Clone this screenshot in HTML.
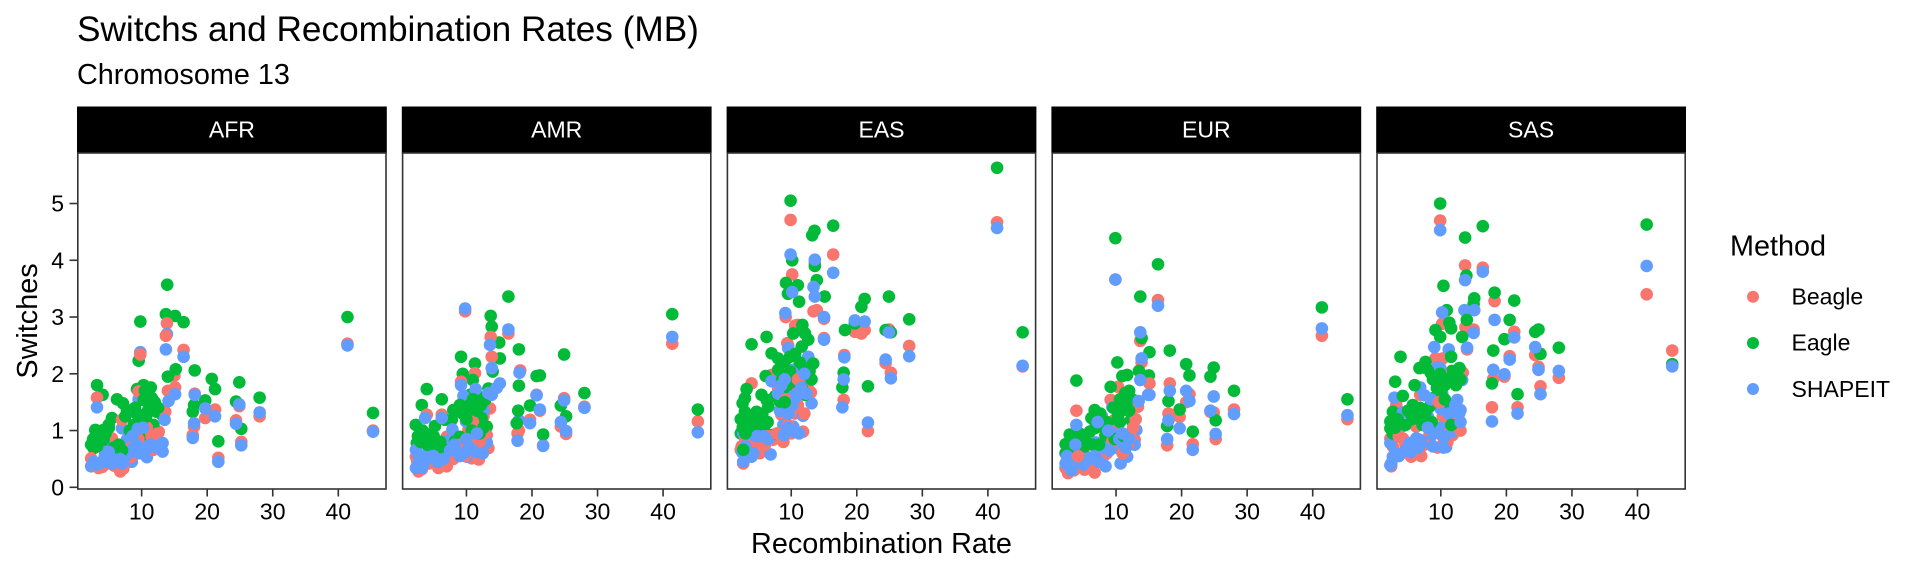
<!DOCTYPE html>
<html lang="en">
<head>
<meta charset="utf-8">
<title>Switchs and Recombination Rates (MB)</title>
<style>
html,body{margin:0;padding:0;background:#fff;width:1920px;height:576px;overflow:hidden}
svg{display:block}
text{font-family:"Liberation Sans",Arial,sans-serif}
</style>
</head>
<body>
<svg id="chart" xmlns="http://www.w3.org/2000/svg" width="1920" height="576" viewBox="0 0 1920 576">
  <rect x="0" y="0" width="1920" height="576" fill="#fff"/>
  <text x="77" y="41" font-size="35.2" fill="#000">Switchs and Recombination Rates (MB)</text>
  <text x="77" y="84" font-size="28.8" fill="#000">Chromosome 13</text>
  <text transform="translate(37,321) rotate(-90)" text-anchor="middle" font-size="28.8" fill="#000">Switches</text>
  <text x="881.5" y="553" text-anchor="middle" font-size="28.8" fill="#000">Recombination Rate</text>
  <g id="panels"></g>
  <g>
    <text x="1730" y="255.7" font-size="28.8" fill="#000">Method</text>
    <circle cx="1753" cy="296.7" r="6" fill="#F8766D"/>
    <text x="1791.5" y="304.5" font-size="23.04" fill="#000">Beagle</text>
    <circle cx="1753" cy="343" r="6" fill="#00BA38"/>
    <text x="1791.5" y="350.7" font-size="23.04" fill="#000">Eagle</text>
    <circle cx="1753" cy="389" r="6" fill="#619CFF"/>
    <text x="1791.5" y="397" font-size="23.04" fill="#000">SHAPEIT</text>
  </g>
</svg>
<script>
const panelNames = ['AFR','AMR','EAS','EUR','SAS'];
const xTickValues = [10,20,30,40];
const yTickValues = [0,1,2,3,4,5];

const afrBeagleX = [41.4,45.3,28,24.4,24.9,25.2,21.7,21.2,20.7,19.7,18.1,18,17.8,16.4,15.1,15,3.19,13.86,13.7,5.47,7,4.46,2.3,3.44,6.74,9.54,10.3,12.6,11.8,13.6,14,8.5,9.8,3,4,5,5.8,7.2,8.4,9.5,10.8,11.5,12.5,12.8];
const afrBeagleY = [2.53,1,1.25,1.18,1.43,0.8,0.52,1.37,1.32,1.22,1.65,1.07,0.92,2.42,1.76,1.97,1.58,2.89,2.67,0.86,1.19,0.6,0.51,0.34,0.28,1.69,1.16,0.98,0.66,1.33,1.7,0.54,2.34,0.38,0.36,0.42,0.38,0.33,0.7,0.85,1.05,0.9,0.95,0.75];
const afrEagleX = [41.4,45.3,28,24.4,24.9,25.2,21.7,21.2,20.7,19.7,18.1,18,17.8,16.4,9.8,13.7,15.1,13.9,3.2,4.05,6.24,7.15,7.76,5.47,4.97,2.93,4.2,2.3,2.68,6.24,6.5,9.3,10.3,11.4,11.57,11.8,12.3,13.1,8.5,10.3,11.8,14,15.2,9.55,11,10.3,9.3,3.2,4.2,2.6,3.2,3.8,4.5,5,5.8,6.5,7.5,8.2,8.8,9,9.6,10.5,11,11.5,12,12.5,10.7,10,7];
const afrEagleY = [3,1.31,1.58,1.51,1.85,1.03,0.81,1.73,1.91,1.53,2.06,1.45,1.33,2.91,2.92,3.05,3.02,3.57,1.8,1.63,1.55,1.48,1.36,1.22,1.1,1.01,1.01,0.75,0.69,0.69,0.54,1.73,1.8,1.76,1.57,1.42,1.33,1.28,0.98,0.92,1.1,1.95,2.08,2.23,1.36,1.54,1.3,0.72,0.84,0.85,0.95,0.95,0.95,1.05,0.7,0.75,1.25,1,1.1,1.4,1.25,1.7,1.6,1.45,1.5,1.4,1.25,1.1,0.65];
const afrShapeitX = [41.4,45.3,28,24.4,24.9,25.2,21.7,21.2,19.7,18.1,18,17.8,16.4,3.19,9.8,13.86,13.7,7,9.18,9.54,10.2,4.46,6,2.68,2.3,4.2,6.5,8.5,10.8,13.2,12.6,8.27,10.3,7.76,15.1,14.1,13.5,3,3.6,4.8,5.5,7,7.5,8,8.8,9.2,9.6,10,10.8,11.5,12,12.8,13.2,8.6,9.4,10.2,5,6.7,4.4];
const afrShapeitY = [2.5,0.98,1.32,1.12,1.46,0.74,0.45,1.25,1.39,1.63,1.13,0.87,2.3,1.41,2.38,2.7,2.43,1.04,1.3,1.55,1,0.73,0.5,0.45,0.37,0.48,0.4,0.45,0.53,0.63,0.8,0.69,0.72,0.84,1.64,1.52,1.19,0.4,0.42,0.45,0.42,0.42,0.55,0.6,0.7,0.75,0.6,0.62,0.68,0.75,0.72,0.68,0.78,0.9,1.03,1.05,0.62,0.5,0.55];

const amrBeagleX = [41.4,45.3,28,24.4,24.9,25.2,21.7,21.2,20.7,19.7,18.2,18,17.8,16.4,9.8,13.7,11.3,13.86,9.18,9.54,9.94,12.6,13.6,3.95,6.24,7,10.3,13.1,13.35,10.2,11.9,10.8,5.73,7,4.3,2.3,2.68,2.5,3.2,4,6,7.3,8,9,9.8,11,12,12.8,10.8];
const amrBeagleY = [2.53,1.16,1.42,1.07,1.57,0.94,0.74,1.35,1.63,1.19,2.06,1,0.95,2.71,3.1,2.65,2.01,2.3,1.86,1.47,1.28,1.25,1.39,1.28,1.28,0.89,1.01,0.92,0.69,0.66,0.49,0.51,0.34,0.37,0.42,0.54,0.28,0.45,0.32,0.42,0.38,0.55,0.5,0.75,0.55,1.15,0.8,0.95,0.9];
const amrEagleX = [41.4,45.3,28,24.4,24.9,25.2,21.7,21.2,20.7,19.7,16.4,13.7,13.86,15,18,9.18,11.3,15.1,14,9.44,10.96,18,13.35,3.95,6.24,3.19,10.55,11.8,12.84,8,11.3,6.74,2.27,5.2,7.76,12.3,13.1,3.19,2.43,4.2,6.24,17.9,8.27,9,11.9,17.67,10.3,4.46,3.7,5.2,11,2.6,3,3.5,4,4.6,5,5.5,6,6.8,3.3,9.4,10,10.5,11,11.6,12.2,12.6,9,10.8,12];
const amrEagleY = [3.05,1.37,1.66,1.44,2.34,1.25,0.93,1.97,1.96,1.44,3.36,3.02,2.83,2.55,2.43,2.3,2.18,2.27,2.04,2,1.89,1.79,1.74,1.73,1.55,1.45,1.63,1.6,1.54,1.36,1.36,1.19,1.1,1.08,1.19,1.22,1.07,0.89,0.78,0.86,0.69,1.35,0.81,0.89,0.84,1.13,1.42,0.72,0.95,0.84,1.13,0.9,0.8,0.85,0.75,0.85,0.9,0.7,0.8,0.65,1,1.3,1.2,1.45,1.55,1.35,1.45,1.05,1.45,1,0.95];
const amrShapeitX = [41.4,45.3,28,24.4,24.9,25.2,21.7,21.2,20.7,19.7,18.1,18,17.8,16.4,9.8,13.6,13.86,15.1,13.86,11.4,9.18,9.54,12.6,9.94,3.7,6.24,7.86,7,10.55,13.1,11.8,10.05,8.27,6,4.3,2.3,2.68,2.3,3.19,14.6,13.35,2.6,3,3.5,4,5,5.6,6.5,7.5,8.2,9,9.6,10.4,11,12.5,10,11.6];
const amrShapeitY = [2.65,0.97,1.4,1.15,1.53,0.99,0.73,1.37,1.62,1.13,2.02,1.18,0.82,2.78,3.15,2.51,2.1,1.83,1.63,1.73,1.8,1.61,1.35,1.16,1.22,1.22,1.02,0.82,0.86,0.79,0.62,0.54,0.6,0.5,0.66,0.66,0.57,0.34,0.34,1.75,1.66,0.4,0.38,0.42,0.5,0.55,0.45,0.5,0.65,0.75,0.55,0.6,0.7,0.65,0.6,0.85,0.95];

const easBeagleX = [41.4,45.3,28,24.4,24.9,25.2,21.7,21.2,20.7,19.7,18.1,18,16.4,9.9,10.15,13.6,13.4,13.9,9.15,15,15,10.6,9.4,11,9.54,3.95,7,8,10.3,12.6,13,10.55,11.8,8.8,8.5,2.43,3.2,5.2,5.7,7.25,2.3,2.68,3,3.6,4.2,5,6,6.5,8.8,9.5,10,11,12,12.5,11,9.2,7.8];
const easBeagleY = [4.67,2.13,2.49,2.19,2.78,2.02,0.99,2.77,2.71,2.74,2.33,1.54,4.1,4.71,3.75,3.96,3.1,3.12,3,2.63,2.97,2.85,2.54,2.86,2.5,1.83,1.98,1.74,1.8,2.1,1.67,1.3,0.98,1.04,1.28,0.72,0.89,0.6,0.92,0.84,0.66,0.42,0.82,0.72,0.65,0.75,0.75,0.9,0.8,1.1,0.95,1.45,1.3,1.75,1.9,1.55,0.95];
const easEagleX = [41.4,45.3,28,24.4,24.9,25.2,21.7,21.2,20.7,16.4,9.9,18.2,18,17.8,19.7,13.2,13.55,15.1,13.9,10.15,9.2,9.5,11,11.2,13.6,6.24,3.95,7,8,9,10.3,11.7,12.1,12.6,11.6,13.35,6.1,3.19,2.93,2.58,5.47,6.24,6.5,4.7,2.93,2.3,4.2,6,2.3,7,8.27,10.55,8.8,12.1,8,9.8,3.2,3.6,4.6,5,5.6,6.4,2.6,3,7.5,8.6,9.4,9.8,10.6,11.3,12,12.8,13.1,11.6,9,2.68];
const easEagleY = [5.63,2.73,2.96,2.77,3.36,2.73,1.78,3.32,3.18,4.61,5.05,2.77,2.02,1.76,2.89,4.44,4.52,3.36,3.65,4,3.6,3.41,3.56,3.27,3.9,2.65,2.52,2.36,2.27,2.21,2.71,2.86,2.71,2.6,2.48,2.18,1.96,1.73,1.57,1.48,1.63,1.54,1.42,1.33,1.33,1.2,1.16,1.1,0.95,0.92,1.51,1.86,1.74,1.63,2.07,2.04,1.2,1.05,1.2,1.1,1.3,1.15,1.05,0.95,1.6,1.9,1.8,2.3,2.35,2.2,2.1,2.05,1.9,1.75,1.5,0.66];
const easShapeitX = [41.4,45.3,28,24.4,24.9,25.2,21.7,21.2,19.7,18.1,18,17.8,16.4,9.9,10.15,13.6,13.4,13.6,15,15,9.1,9.54,12.6,10.3,7,12.6,12.3,10.2,13.1,8.27,11.8,8.8,10.3,5.2,2.68,4.2,5.73,6.85,3.95,2.68,2.5,3,3.5,4.2,4.8,5.8,6.5,8,9,8.5,9.6,10.2,10.8,11.5,12,12.3,9.5,11.2,10.6,8.9];
const easShapeitY = [4.57,2.14,2.31,2.25,2.73,1.92,1.14,2.92,2.94,2.29,1.9,1.41,3.78,4.1,3.44,4.01,3.53,3.36,3,2.6,3.07,2.45,2.3,2.07,1.87,1.92,1.83,1.63,1.48,1.35,1.26,1.1,1.07,1.19,0.95,0.84,0.76,0.58,0.54,0.45,0.62,0.72,0.55,0.6,0.9,0.9,0.85,1.65,1.9,1.8,1.3,1.45,1.6,1.75,2,1.65,1.05,0.95,0.98,0.92];

const eurBeagleX = [41.4,45.3,28,24.4,24.9,25.2,21.7,21.2,20.7,19.7,18.2,18,17.8,16.4,9.9,13.7,13.9,15.1,10.3,9.18,3.95,9.8,12.5,13.35,12.84,10.2,8.27,6.74,5.2,2.68,2.3,12.3,4.46,3.2,3,3.6,5,5.8,6.4,8.6,9.4,10,11,11.8,12.6,13,4.2];
const eurBeagleY = [2.67,1.2,1.37,1.33,1.32,0.85,0.76,1.64,1.5,1.24,1.83,1.3,0.74,3.3,3.66,2.58,2.2,1.83,1.77,1.54,1.35,1.19,1.23,1.42,0.84,0.92,0.72,0.26,0.31,0.25,0.34,0.89,0.42,0.37,0.38,0.3,0.5,0.35,0.45,0.6,0.8,1,0.6,0.75,1.05,1.2,0.55];
const eurEagleX = [41.4,45.3,28,24.4,24.9,25.2,21.7,21.2,20.7,19.7,18.2,18,17.8,16.4,9.9,13.7,13.9,15.1,15,10.2,10.96,11.7,3.95,13.5,9.18,11.4,12.6,11.57,6.74,6.24,6.74,6,10.3,8.37,2.93,4.2,2.3,2.3,12.3,11.8,11,9.3,5.2,3.2,2.6,3,3.6,4.4,5.4,6.4,7,7.6,8,8.6,9.6,10.6,11.3,12,12,10.6,9.8,11.2,7.4];
const eurEagleY = [3.17,1.55,1.7,1.95,2.11,1.18,0.98,1.97,2.17,1.37,2.41,1.52,1.08,3.93,4.39,3.36,2.63,2.38,1.97,2.2,1.96,1.98,1.88,2.05,1.77,1.66,1.54,1.45,1.36,1.22,1.04,0.98,1.25,0.91,0.93,0.93,0.76,0.6,1.19,0.75,1.36,1.07,0.72,0.69,0.7,0.82,0.8,0.95,0.8,0.75,1.2,1.3,1.05,1.15,1.4,1.55,1.5,1.7,1.35,1.15,0.85,0.9,0.75];
const eurShapeitX = [41.4,45.3,28,24.4,24.9,25.2,21.7,21.2,20.7,19.7,18.2,18,17.8,16.4,9.9,13.7,13.9,15.1,13.7,14.9,13.45,9.44,7.86,12.5,13.1,12.84,6.9,4.2,4.2,5.73,8.27,10.15,10.3,11.7,10.7,8.4,2.3,2.68,3.2,3.95,2.5,3,3.6,4.6,5,6,6.8,7.4,8,9,9.5,10.5,11,11.5,12,3.8,7.2,8.8];
const eurShapeitY = [2.8,1.27,1.29,1.35,1.6,0.94,0.66,1.52,1.7,1.04,1.7,1.18,0.85,3.2,3.66,2.73,2.27,1.63,1.89,1.63,1.52,1.41,1.25,1.16,1.01,0.75,0.79,0.76,0.59,0.53,0.57,0.86,0.69,0.54,0.42,0.37,0.42,0.39,0.3,1.1,0.55,0.42,0.45,0.5,0.4,0.5,0.55,0.45,0.7,0.65,0.95,0.85,0.95,0.7,0.85,0.75,1.15,1];

const sasBeagleX = [41.4,45.3,28,24.4,24.9,25.2,21.7,21.2,20.5,19.7,18.2,18,17.8,16.4,9.9,13.7,10.2,13.75,15,14,9.18,10.3,9.4,13.35,6.85,3.2,11.57,12.84,10.3,6.24,8.27,10.3,11.8,2.3,2.68,6.74,5.47,4.2,2.43,3,3.6,3.4,4.6,5,5.8,7,7.5,8.8,9.5,10.2,11,12,13,9.7,10];
const sasBeagleY = [3.4,2.41,1.93,2.33,2.12,1.78,1.41,2.74,2.31,1.95,3.28,1.91,1.41,3.87,4.7,3.91,2.88,2.82,2.78,2.43,2.27,2.27,2,2.02,1.63,1.45,1.3,1.16,1.25,1.07,0.92,0.89,0.92,0.86,0.72,0.6,0.54,0.86,0.37,1.05,0.9,0.6,0.75,0.6,0.62,0.55,0.75,1.1,0.7,0.95,0.8,1.1,1,1.5,2.05];
const sasEagleX = [41.4,45.3,28,24.4,24.9,25.2,21.7,21.2,20.5,19.7,18.2,18,17.8,16.4,9.9,13.7,13.9,15.1,15,10.4,10.9,9.18,9.9,11.57,11.3,13.25,13.96,7.66,6.74,11.57,12.84,8.5,10.05,12.1,3.85,3.04,6,4.2,5.73,8.27,8.8,6.24,2.68,2.3,2.3,2.68,11.57,9.3,10.8,7.76,3,3.4,4.6,5,5.6,6.8,7.2,7.6,8.8,9.4,10,10.6,11.2,11.7,12.3,13,9.9,8.6,10.6,11.6];
const sasEagleY = [4.63,2.17,2.46,2.74,2.78,2.35,1.64,3.29,2.95,2.61,3.43,2.41,1.83,4.6,5,4.4,3.73,3.33,3.23,3.55,3.12,2.77,2.65,2.8,2.9,2.65,2.95,2.21,2.1,2.3,2.1,2.01,1.98,1.98,2.3,1.86,1.8,1.61,1.45,1.42,1.57,1.25,1.33,1.16,1.04,0.95,1.43,1.92,1.89,2.1,1.05,1.2,1.1,1.35,1.2,1.4,1.1,1.3,1.9,1.75,1.7,1.8,1.95,2.05,1.8,1.9,2,1.15,1.55,1.1];
const sasShapeitX = [41.4,45.3,28,24.4,24.9,25.2,21.7,21.2,20.5,19.7,18.2,18,17.8,16.4,9.9,13.7,15.1,15,10.2,13.6,9,11.2,14,9.4,13.25,6.85,10.2,2.93,12.5,13,10,8,8.27,10.55,11.8,4.2,4.2,2.3,6.24,8.27,10.3,10.8,6.74,5.2,2.43,2.3,2.68,3,3.6,4.6,5.4,6,6.6,7,8.5,9,9.6,9.9,10.6,11.2,12.2,12.8,13,7.5,8,8.8,10.4];
const sasShapeitY = [3.9,2.13,2.05,2.47,2.07,1.64,1.3,2.64,2.25,1.99,2.95,2.07,1.16,3.8,4.53,3.65,3.12,2.72,3.08,3.12,2.47,2.43,2.46,2.11,1.89,1.76,1.66,1.58,1.54,1.36,1.38,1.25,1.1,1.04,0.98,1.32,1.08,0.78,0.86,0.81,0.74,0.71,0.84,0.78,0.42,0.39,0.54,0.6,0.55,0.65,0.62,0.72,0.7,0.78,1.55,0.95,1.05,2.1,0.9,1.3,1.45,1.3,1.15,1.62,1.05,0.72,0.7];

const panelSeries = [
  [[afrBeagleX,afrBeagleY],[afrEagleX,afrEagleY],[afrShapeitX,afrShapeitY]],
  [[amrBeagleX,amrBeagleY],[amrEagleX,amrEagleY],[amrShapeitX,amrShapeitY]],
  [[easBeagleX,easBeagleY],[easEagleX,easEagleY],[easShapeitX,easShapeitY]],
  [[eurBeagleX,eurBeagleY],[eurEagleX,eurEagleY],[eurShapeitX,eurShapeitY]],
  [[sasBeagleX,sasBeagleY],[sasEagleX,sasEagleY],[sasShapeitX,sasShapeitY]]
];
const methodNames = ['beagle','eagle','shapeit'];

const COLORS = ['#F8766D','#00BA38','#619CFF'];
const NS = 'http://www.w3.org/2000/svg';
const PANEL_W = 309.8, PANEL_STEP = 324.8, PANEL_X0 = 77, PANEL_TOP = 153, PANEL_BOTTOM = 489;
const X_MIN = 0.14, X_MAX = 47.4, Y_MIN = -0.03, Y_MAX = 5.89;
const root = document.getElementById('panels');

function xScale(v, left){ return left + (v - X_MIN) / (X_MAX - X_MIN) * PANEL_W; }
function yScale(v){ return PANEL_BOTTOM - (v - Y_MIN) / (Y_MAX - Y_MIN) * (PANEL_BOTTOM - PANEL_TOP); }
function make(tag, attrs, parent){
  const el = document.createElementNS(NS, tag);
  for (const k in attrs) el.setAttribute(k, attrs[k]);
  parent.appendChild(el);
  return el;
}

panelNames.forEach(function(name, p){
  const left = PANEL_X0 + p * PANEL_STEP;
  const g = make('g', {}, root);
  
  

  const strip = make('rect', {x:left, y:106.5, width:PANEL_W, height:46.5, fill:'#000'}, g);
  
  

  const stripLabel = make('text', {x:left + PANEL_W/2, y:137.5, 'text-anchor':'middle', 'font-size':23.04, fill:'#fff'}, g);
  stripLabel.textContent = name;
  
  

  xTickValues.forEach(function(t){
    const px = xScale(t, left);
    const tick = make('line', {x1:px, x2:px, y1:PANEL_BOTTOM, y2:PANEL_BOTTOM + 7.5, stroke:'#333', 'stroke-width':1.6}, g);
    
    
    const lab = make('text', {x:px, y:519.5, 'text-anchor':'middle', 'font-size':23.04, fill:'#000'}, g);
    lab.textContent = String(t);
    
    
  });

  if (p === 0) {
    yTickValues.forEach(function(t){
      const py = yScale(t);
      const tick = make('line', {x1:left - 7.5, x2:left, y1:py, y2:py, stroke:'#333', 'stroke-width':1.6}, g);
      
      
      const lab = make('text', {x:64, y:py + 8.2, 'text-anchor':'end', 'font-size':23.04, fill:'#000'}, g);
      lab.textContent = String(t);
      
      
    });
  }

  const series = panelSeries[p];
  const order = [];
  series.forEach(function(s, m){
    s[0].forEach(function(v, i){
      order.push({m: m, i: i, key: (i + 1) / s[0].length + m * 0.08});
    });
  });
  order.sort(function(a, b){ return a.key - b.key; });
  order.forEach(function(o){
    const xs = series[o.m][0], ys = series[o.m][1];
    const pt = make('circle', {cx:xScale(xs[o.i], left), cy:yScale(ys[o.i]), r:6.3, fill:COLORS[o.m]}, g);
    
    
  });

  const border = make('rect', {x:left + 0.8, y:PANEL_TOP, width:PANEL_W - 1.6, height:PANEL_BOTTOM - PANEL_TOP, fill:'none', stroke:'#333', 'stroke-width':1.6}, g);
  
  
});
</script>
</body>
</html>
